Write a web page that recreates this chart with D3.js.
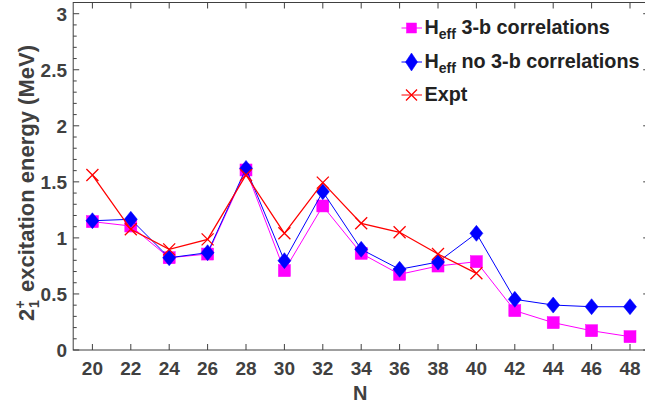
<!DOCTYPE html>
<html><head><meta charset="utf-8">
<script src="https://cdn.jsdelivr.net/npm/d3@7"></script>
<style>body{margin:0;background:#fff}svg{display:block}text{font-family:"Liberation Sans",Arial,sans-serif;font-weight:bold}</style>
</head><body><svg id="c" width="645" height="408"></svg>
<script>
const N = [20,22,24,26,28,30,32,34,36,38,40,42,44,46,48];
const with3b = [1.145,1.106,0.823,0.856,1.606,0.708,1.285,0.862,0.675,0.749,0.788,0.351,0.244,0.172,0.119];
const no3b = [1.153,1.166,0.823,0.868,1.620,0.797,1.412,0.898,0.720,0.785,1.041,0.452,0.401,0.386,0.386];
const exptN = [20,22,24,26,28,30,32,34,36,38,40];
const expt = [1.561,1.077,0.898,0.987,1.561,1.041,1.493,1.130,1.050,0.856,0.684];
const xTicks = [20,22,24,26,28,30,32,34,36,38,40,42,44,46,48];
const yTicks = [0,0.5,1,1.5,2,2.5,3];
const yMinor = d3.range(0,3.101,0.1);
const legendLabels = [["H","eff"," 3-b correlations"],["H","eff"," no 3-b correlations"],["Expt",null,""]];

const svg = d3.select("#c");
const L=73.2, R=649.2, T=2.5, B=350;
const x = d3.scaleLinear().domain([19,49]).range([L,R]);
const y = d3.scaleLinear().domain([0,3.1]).range([B,T]);
const axC = "#404040";
const FS = 19;

const g = svg.append("g");
g.append("rect").attr("x",L).attr("y",T).attr("width",R-L).attr("height",B-T)
 .attr("fill","none").attr("stroke",axC).attr("stroke-width",1);
xTicks.forEach(t=>{
  g.append("line").attr("x1",x(t)).attr("x2",x(t)).attr("y1",B).attr("y2",B-6).attr("stroke",axC);
  g.append("line").attr("x1",x(t)).attr("x2",x(t)).attr("y1",T).attr("y2",T+6).attr("stroke",axC);
  g.append("text").attr("x",x(t)).attr("y",375).attr("text-anchor","middle").attr("font-size",FS).attr("fill",axC).text(t);
});
yMinor.forEach(t=>{
  const major = yTicks.some(v=>Math.abs(v-t)<1e-6);
  const len = major?6:3.5;
  g.append("line").attr("x1",L).attr("x2",L+len).attr("y1",y(t)).attr("y2",y(t)).attr("stroke",axC);
  g.append("line").attr("x1",R).attr("x2",R-len).attr("y1",y(t)).attr("y2",y(t)).attr("stroke",axC);
});
yTicks.forEach(t=>{
  g.append("text").attr("x",67).attr("y",y(t)+6.8).attr("text-anchor","end").attr("font-size",FS).attr("fill",axC).text(t);
});
g.append("text").attr("x",(L+R)/2-1).attr("y",400).attr("text-anchor","middle").attr("font-size",20).attr("fill",axC).text("N");
const yg = g.append("g").attr("transform","translate(33.5,181) rotate(-90)");
yg.append("text").attr("x",-140).attr("y",0).attr("font-size",22).attr("fill",axC).text("2");
yg.append("text").attr("x",-127.5).attr("y",-9).attr("font-size",14).attr("fill",axC).text("+");
yg.append("text").attr("x",-127).attr("y",5).attr("font-size",14).attr("fill",axC).text("1");
yg.append("text").attr("x",136).attr("y",0).attr("text-anchor","end").attr("font-size",22).attr("fill",axC).text("excitation energy (MeV)");

const sq = (sel,cx,cy,s)=>sel.append("rect").attr("x",cx-s/2).attr("y",cy-s/2).attr("width",s).attr("height",s).attr("fill","#ff00ff").attr("stroke","#ff00ff").attr("stroke-width",0.5);
const dia = (sel,cx,cy,w,h)=>sel.append("path").attr("d",`M${cx},${cy-h/2}L${cx+w/2},${cy}L${cx},${cy+h/2}L${cx-w/2},${cy}Z`).attr("fill","#0000ff").attr("stroke","#0000ff").attr("stroke-width",0.5);
const cross = (sel,cx,cy,s)=>sel.append("path").attr("d",`M${cx-s/2},${cy-s/2}L${cx+s/2},${cy+s/2}M${cx-s/2},${cy+s/2}L${cx+s/2},${cy-s/2}`).attr("stroke","#ff0000").attr("stroke-width",1.3).attr("fill","none");

const line = d3.line().x(d=>x(d[0])).y(d=>y(d[1]));
const s1 = N.map((n,i)=>[n,with3b[i]]);
const s2 = N.map((n,i)=>[n,no3b[i]]);
const s3 = exptN.map((n,i)=>[n,expt[i]]);
const plot = svg.append("g");
plot.append("path").attr("d",line(s1)).attr("fill","none").attr("stroke","#ff00ff").attr("stroke-width",1);
s1.forEach(d=>sq(plot,x(d[0]),y(d[1]),12));
plot.append("path").attr("d",line(s2)).attr("fill","none").attr("stroke","#0000ff").attr("stroke-width",1);
s2.forEach(d=>dia(plot,x(d[0]),y(d[1]),13,16));
plot.append("path").attr("d",line(s3)).attr("fill","none").attr("stroke","#ff0000").attr("stroke-width",1.3);
s3.forEach(d=>cross(plot,x(d[0]),y(d[1]),12));

const lg = svg.append("g");
const rows = [
  {y:34, kind:"sq", color:"#ff00ff"},
  {y:68, kind:"dia", color:"#0000ff"},
  {y:101, kind:"x", color:"#ff0000"}
];
rows.forEach((r,i)=>{
  const cy = r.y-6;
  lg.append("line").attr("x1",401.5).attr("x2",422).attr("y1",cy).attr("y2",cy).attr("stroke",r.color).attr("stroke-width",1);
  if(r.kind==="sq") sq(lg,411.5,cy,10);
  else if(r.kind==="dia") dia(lg,411.5,cy,12,18);
  else cross(lg,411.5,cy,11);
  const [pre,sub,post] = legendLabels[i];
  const t = lg.append("text").attr("x",424.5).attr("y",r.y).attr("font-size",19.8).attr("fill","#222");
  t.append("tspan").text(pre);
  if(sub){
    t.append("tspan").attr("font-size",14).attr("dy",5).text(sub);
    t.append("tspan").attr("dy",-5).text(post);
  }
});
</script></body></html>
